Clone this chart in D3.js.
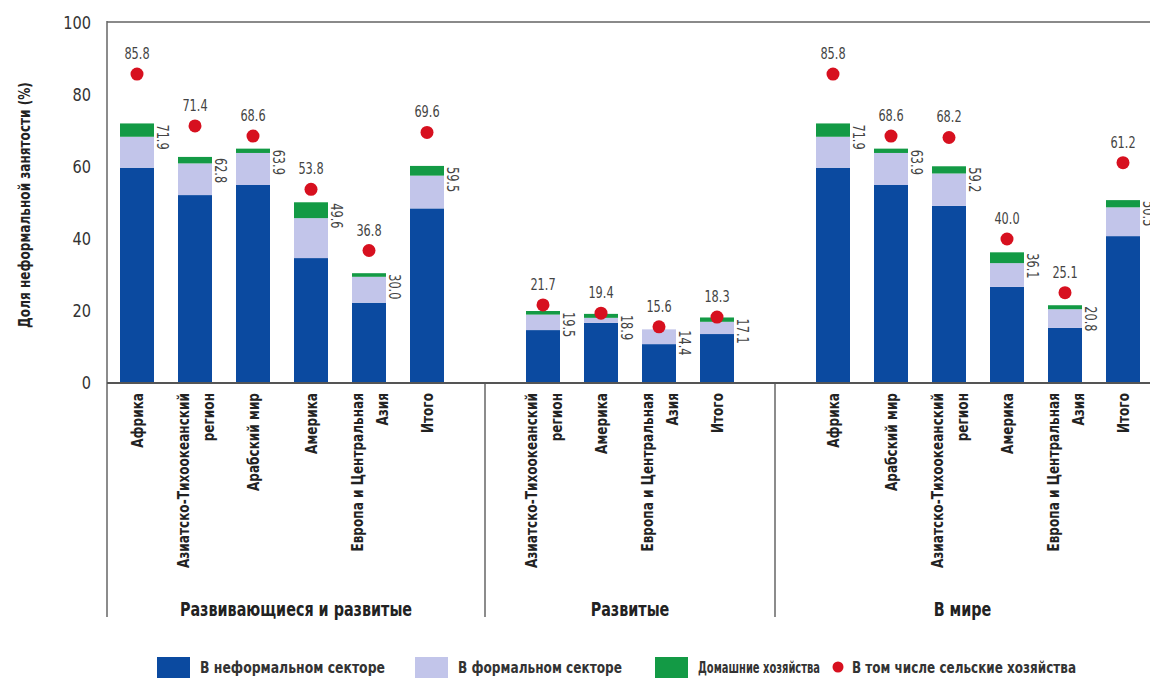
<!DOCTYPE html>
<html>
  <head>
    <meta charset="utf-8">
    <title>Доля неформальной занятости</title>
    <script type="text/javascript" src="https://d3js.org/d3.v7.min.js"></script>
    <style type="text/css">
      body { margin: 0; background: #fff; }
      text { font-family: 'Liberation Sans Narrow', 'DejaVu Sans Condensed', sans-serif; }
    </style>
  </head>
  <body>
    <script type="text/javascript">

      //Data
      var groups = ["Развивающиеся и развитые", "Развитые", "В мире"];
      var categories = [
        "Африка", "Азиатско-Тихоокеанский|регион", "Арабский мир", "Америка", "Европа и Центральная|Азия", "Итого",
        "Азиатско-Тихоокеанский|регион", "Америка", "Европа и Центральная|Азия", "Итого",
        "Африка", "Арабский мир", "Азиатско-Тихоокеанский|регион", "Америка", "Европа и Центральная|Азия", "Итого"
      ];
      var groupOf   = [0, 0, 0, 0, 0, 0, 1, 1, 1, 1, 2, 2, 2, 2, 2, 2];
      var informal  = [59.8, 52.2, 55.0, 34.7, 22.3, 48.5, 14.7, 16.7, 10.8, 13.6, 59.8, 55.0, 49.2, 26.7, 15.3, 40.8];
      var formal    = [8.6, 8.8, 8.9, 11.1, 7.2, 9.1, 4.3, 1.4, 4.1, 3.4, 8.6, 8.9, 9.0, 6.6, 5.2, 8.0];
      var household = [3.7, 1.8, 1.2, 4.4, 1.0, 2.7, 1.0, 1.1, 0.0, 1.2, 3.7, 1.2, 2.0, 3.0, 1.1, 2.0];
      var totals    = ["71.9", "62.8", "63.9", "49.6", "30.0", "59.5", "19.5", "18.9", "14.4", "17.1",
                       "71.9", "63.9", "59.2", "36.1", "20.8", "50.5"];
      var rural     = [85.8, 71.4, 68.6, 53.8, 36.8, 69.6, 21.7, 19.4, 15.6, 18.3, 85.8, 68.6, 68.2, 40.0, 25.1, 61.2];
      var yTicks    = [0, 20, 40, 60, 80, 100];

      var seriesKeys   = ["informal", "formal", "household"];
      var seriesNames  = ["В неформальном секторе", "В формальном секторе", "Домашние хозяйства"];
      var seriesColors = ["#0b4aa0", "#c2c5ea", "#139a45"];
      var ruralName = "В том числе сельские хозяйства";
      var ruralColor = "#d7101f";

      //Width and height
      var w = 1150;
      var h = 680;
      var frameLeft = 107, frameBottom = 617;
      var narrow = " scale(0.84,1)";   // squeeze text to look like the condensed original

      var rows = categories.map(function(c, i) {
        return { i: i, slot: i + groupOf[i], name: c, informal: informal[i], formal: formal[i],
                 household: household[i], total: totals[i], rural: rural[i] };
      });

      var x = d3.scaleBand()
        .domain(d3.range(categories.length + groups.length - 1))
        .range([108, 1152])
        .paddingInner(0.414)
        .paddingOuter(0.207);

      var y = d3.scaleLinear().domain([0, 100]).range([383, 23]);

      var svg = d3.select("body")
        .append("svg")
        .attr("width", w)
        .attr("height", h);

      //Frame
      svg.append("line").attr("x1", frameLeft).attr("x2", w).attr("y1", y(100) - 1).attr("y2", y(100) - 1)
        .attr("stroke", "#8a8a8a").attr("stroke-width", 2);
      svg.append("line").attr("x1", frameLeft).attr("x2", frameLeft).attr("y1", y(100) - 2).attr("y2", frameBottom)
        .attr("stroke", "#666").attr("stroke-width", 1.5);

      //Separators between groups (empty slots)
      var sepX = [];
      for (var g = 1; g < groups.length; g++) {
        var firstIdx = groupOf.indexOf(g);
        var emptySlot = firstIdx + g - 1;
        sepX.push(x(emptySlot) + x.bandwidth() / 2);
      }
      svg.selectAll("line.sep")
        .data(sepX)
        .enter()
        .append("line")
        .attr("class", "sep")
        .attr("x1", d => d).attr("x2", d => d)
        .attr("y1", y(0)).attr("y2", frameBottom)
        .attr("stroke", "#666").attr("stroke-width", 1.5);

      //Y axis
      var yAxis = svg.append("g")
        .attr("transform", "translate(" + frameLeft + ",0)")
        .call(d3.axisLeft(y).tickValues(yTicks).tickSize(0).tickPadding(16));
      yAxis.select(".domain").remove();
      yAxis.selectAll("text")
        .style("font-family", "'Liberation Sans Narrow', 'DejaVu Sans Condensed', sans-serif")
        .attr("font-size", 18)
        .attr("fill", "#333")
        .attr("transform", "scale(0.9,1)")
        .attr("x", -16 / 0.9);

      svg.append("text")
        .attr("transform", "translate(30," + 205 + ") rotate(-90)" + narrow)
        .attr("text-anchor", "middle")
        .attr("font-size", 16)
        .attr("font-weight", "bold")
        .attr("fill", "#222")
        .text("Доля неформальной занятости (%)");

      //Stacked bars
      var stack = d3.stack().keys(seriesKeys);
      var layers = stack(rows);

      svg.selectAll("g.layer")
        .data(layers)
        .enter()
        .append("g")
        .attr("class", "layer")
        .attr("fill", (d, i) => seriesColors[i])
        .selectAll("rect")
        .data(d => d)
        .enter()
        .append("rect")
        .attr("x", d => x(d.data.slot))
        .attr("y", d => y(d[1]))
        .attr("width", x.bandwidth())
        .attr("height", d => y(d[0]) - y(d[1]));

      //Baseline
      svg.append("line").attr("x1", frameLeft).attr("x2", w).attr("y1", y(0)).attr("y2", y(0))
        .attr("stroke", "#555").attr("stroke-width", 2);

      //Total labels (rotated, beside bar)
      svg.selectAll("text.total")
        .data(rows)
        .enter()
        .append("text")
        .attr("class", "total")
        .attr("transform", d => "translate(" + (x(d.slot) + x.bandwidth() + 3) + "," +
              (y(d.informal + d.formal + d.household) + 1) + ") rotate(90)" + narrow)
        .attr("font-size", 15)
        .attr("fill", "#444")
        .text(d => d.total);

      //Rural dots
      svg.selectAll("circle.rural")
        .data(rows)
        .enter()
        .append("circle")
        .attr("class", "rural")
        .attr("cx", d => x(d.slot) + x.bandwidth() / 2)
        .attr("cy", d => y(d.rural))
        .attr("r", 6.5)
        .attr("fill", ruralColor);

      svg.selectAll("text.rural")
        .data(rows)
        .enter()
        .append("text")
        .attr("class", "rural")
        .attr("transform", d => "translate(" + (x(d.slot) + x.bandwidth() / 2) + "," + (y(d.rural) - 15) + ")" + narrow)
        .attr("text-anchor", "middle")
        .attr("font-size", 15)
        .attr("fill", "#444")
        .text(d => d.rural.toFixed(1));

      //Category labels
      var catLabels = svg.selectAll("text.cat")
        .data(rows)
        .enter()
        .append("text")
        .attr("class", "cat")
        .attr("transform", d => "translate(" + (x(d.slot) + x.bandwidth() / 2) + ",393) rotate(-90)" + narrow)
        .attr("text-anchor", "end")
        .attr("font-size", 16)
        .attr("font-weight", "bold")
        .attr("fill", "#222");
      catLabels.each(function(d) {
        var lines = d.name.split("|");
        var t = d3.select(this);
        lines.forEach(function(line, k) {
          var off = lines.length === 1 ? 6 : (k === 0 ? -6 : 19);
          t.append("tspan").attr("x", 0).attr("y", off).text(line);
        });
      });

      //Group labels
      var bounds = [frameLeft].concat(sepX).concat([w]);
      svg.selectAll("text.group")
        .data(groups)
        .enter()
        .append("text")
        .attr("class", "group")
        .attr("transform", (d, i) => "translate(" + ((bounds[i] + bounds[i + 1]) / 2) + ",616)" + narrow)
        .attr("text-anchor", "middle")
        .attr("font-size", 19)
        .attr("font-weight", "bold")
        .attr("fill", "#222")
        .text(d => d);

      //Legend
      var legendX = [157, 415, 655];
      var legendW = [185, 164, 122];
      var legend = svg.selectAll("g.legend")
        .data(seriesNames)
        .enter()
        .append("g")
        .attr("class", "legend")
        .attr("transform", (d, i) => "translate(" + legendX[i] + ",657)");
      legend.append("rect")
        .attr("width", 33).attr("height", 21)
        .attr("fill", (d, i) => seriesColors[i]);
      legend.append("text")
        .attr("x", 43).attr("y", 16)
        .attr("font-size", 15)
        .attr("font-weight", "bold")
        .attr("fill", "#333")
        .attr("textLength", (d, i) => legendW[i])
        .attr("lengthAdjust", "spacingAndGlyphs")
        .text(d => d);

      var ruralLegend = svg.append("g").attr("transform", "translate(838,667)");
      ruralLegend.append("circle").attr("r", 5.5).attr("fill", ruralColor);
      ruralLegend.append("text")
        .attr("x", 14).attr("y", 6)
        .attr("font-size", 15)
        .attr("font-weight", "bold")
        .attr("fill", "#333")
        .attr("textLength", 224)
        .attr("lengthAdjust", "spacingAndGlyphs")
        .text(ruralName);

    </script>
  </body>
</html>
